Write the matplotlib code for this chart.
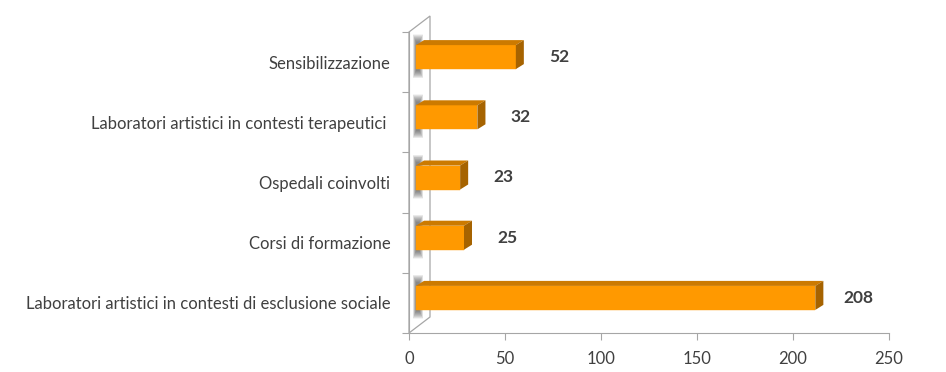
import numpy as np
import matplotlib
matplotlib.use("Agg")
import matplotlib.pyplot as plt
from matplotlib.patches import Polygon, Rectangle

plt.rcParams['font.family'] = ['Lato', 'DejaVu Sans']

# dati
categorie = ["Laboratori artistici in contesti di esclusione sociale",
             "Corsi di formazione",
             "Ospedali coinvolti",
             "Laboratori artistici in contesti terapeutici ",
             "Sensibilizzazione"]
valori = [208, 25, 23, 32, 52]
xticks = [0, 50, 100, 150, 200, 250]

W, H = 946, 372
fig = plt.figure(figsize=(W/100, H/100), dpi=100)
# asse in pixel: x 409..889, y 32..333 (dall'alto)
ax = fig.add_axes([409/W, (H-333)/H, 480/W, 301/H])
ax.set_xlim(0, 250)
ax.set_ylim(-0.5, len(categorie)-0.5)

ux = 250/480.0      # unita' x per pixel
uy = 5/301.0        # unita' y per pixel

grigio = "#a6a6a6"
testo = "#404040"

# parete 3D (profondita' 21px, 16px)
wx, wy = 21*ux, 16*uy
y0, y1 = -0.5, len(categorie)-0.5
parete = Polygon([(0, y0), (wx, y0+wy), (wx, y1+wy), (0, y1)], closed=True,
                 facecolor="white", edgecolor=grigio, lw=0.9, clip_on=False, zorder=1)
ax.add_patch(parete)

# barre 3D
fx, fy = 7*ux, 5*uy        # piano frontale delle barre
dx, dy = 8*ux, 5*uy        # profondita' barra
h = 24*uy
pos = np.arange(len(categorie))
for i, v in enumerate(valori):
    yc = pos[i] + fy
    # ombra sulla parete (sfumata)
    for k in range(16):
        ax.add_patch(Rectangle((fx - 3*ux + k*0.2*ux, yc - h/2 - 9*uy + k*0.5*uy),
                               (10 - k*0.45)*ux, h + 20*uy - k*uy,
                               facecolor="#404040", alpha=0.055, lw=0,
                               zorder=2, clip_on=False))
    ax.barh(yc, v, left=fx, height=h, color="#ff9900", zorder=4,
            edgecolor="#ff9900", lw=0.3)
    top = Polygon([(fx, yc+h/2), (fx+v, yc+h/2), (fx+v+dx, yc+h/2+dy), (fx+dx, yc+h/2+dy)],
                  closed=True, facecolor="#cc7a00", lw=0, zorder=4)
    lato = Polygon([(fx+v, yc-h/2), (fx+v+dx, yc-h/2+dy), (fx+v+dx, yc+h/2+dy), (fx+v, yc+h/2)],
                   closed=True, facecolor="#a66300", lw=0, zorder=4)
    ax.add_patch(top)
    ax.add_patch(lato)
    ax.annotate(str(v), (fx+v, yc), xytext=(31, 0), textcoords="offset points",
                ha="center", va="center", fontsize=12.5, fontweight="bold",
                color=testo, zorder=5)

for s in ["top", "right"]:
    ax.spines[s].set_visible(False)
ax.spines["left"].set_color(grigio)
ax.spines["bottom"].set_color(grigio)
ax.spines["left"].set_zorder(3)

ax.set_yticks(np.arange(-0.5, len(categorie), 1.0))
ax.set_yticklabels([])
ax.set_yticks(pos, minor=True)
ax.set_yticklabels(categorie, minor=True)
ax.tick_params(axis="y", which="major", length=5, color=grigio, direction="out")
ax.tick_params(axis="y", which="minor", length=0, pad=13.5, labelsize=12, labelcolor=testo)
ax.set_xticks(xticks)
ax.tick_params(axis="x", length=5, color=grigio, pad=8, labelsize=12, labelcolor=testo)

fig.savefig("out.png", dpi=100)
